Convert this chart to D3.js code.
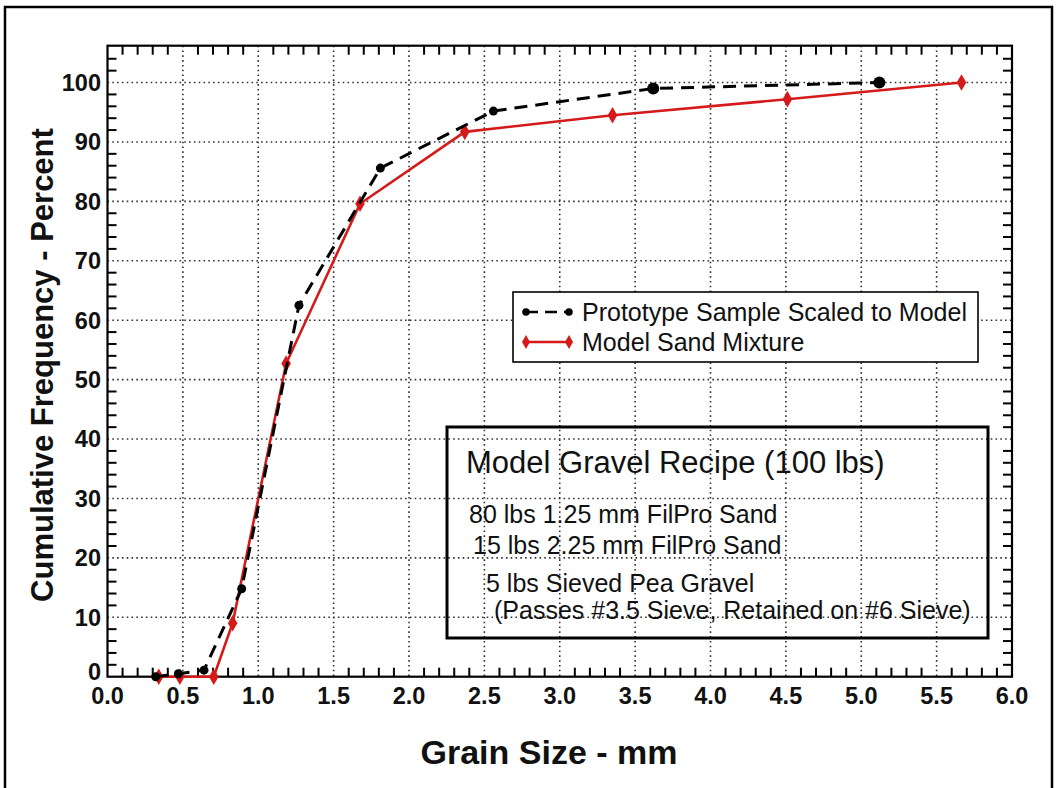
<!DOCTYPE html>
<html>
<head>
<meta charset="utf-8">
<script src="https://cdn.jsdelivr.net/npm/d3@7"></script>
<style>
  html, body { margin: 0; padding: 0; background: #fff; }
  svg { display: block; }
  text { font-family: "Liberation Sans", Arial, Helvetica, sans-serif; fill: #111; }
</style>
</head>
<body>
<svg id="chart" width="1058" height="788"></svg>
<script>
// Grain-size distribution: prototype sample (scaled) vs. model sand mixture
const protoSize = [0.32, 0.47, 0.64, 0.89, 1.27, 1.81, 2.56, 3.62, 5.12];
const protoPct  = [0, 0.5, 1.1, 14.8, 62.5, 85.6, 95.2, 99.0, 100.0];

const modelSize = [0.34, 0.48, 0.705, 0.83, 1.185, 1.675, 2.37, 3.35, 4.51, 5.665];
const modelPct  = [0, 0, 0, 9.0, 52.7, 79.6, 91.7, 94.5, 97.2, 100.0];

const xTickValues = [0, 0.5, 1, 1.5, 2, 2.5, 3, 3.5, 4, 4.5, 5, 5.5, 6];
const yTickValues = [0, 10, 20, 30, 40, 50, 60, 70, 80, 90, 100];

const seriesNames = ["Prototype Sample Scaled to Model", "Model Sand Mixture"];
const recipeTitle = "Model Gravel Recipe (100 lbs)";
const recipeLines = [
  "80 lbs 1.25 mm FilPro Sand",
  "15 lbs 2.25 mm FilPro Sand",
  "5 lbs Sieved Pea Gravel",
  "(Passes #3.5 Sieve, Retained on #6 Sieve)"
];

const svg = d3.select("#chart");
const plot = { left: 107.5, right: 1012, top: 45.7, bottom: 676.7 };

const x = d3.scaleLinear().domain([0, 6]).range([plot.left, plot.right]);
const y = d3.scaleLinear().domain([0, 106.2]).range([plot.bottom, plot.top]);

// outer frame
svg.append("rect")
  .attr("x", 5).attr("y", 7).attr("width", 1047).attr("height", 800)
  .attr("fill", "none").attr("stroke", "#000").attr("stroke-width", 2.5);

// dotted grid
const grid = svg.append("g").attr("stroke", "#333").attr("stroke-width", 1.6)
  .attr("stroke-dasharray", "1.6,3.2");
grid.selectAll("line.gx").data(xTickValues.filter(v => v > 0 && v < 6)).join("line")
  .attr("x1", d => x(d)).attr("x2", d => x(d))
  .attr("y1", plot.top).attr("y2", plot.bottom);
grid.selectAll("line.gy").data(yTickValues.filter(v => v > 0)).join("line")
  .attr("y1", d => y(d)).attr("y2", d => y(d))
  .attr("x1", plot.left).attr("x2", plot.right);

// minor ticks on all four sides, pointing inward
const tickLen = 9;
const xMinor = d3.range(1, 60).map(i => i / 10).filter(v => Math.abs(v * 2 - Math.round(v * 2)) > 1e-6);
const yMinor = d3.range(2, 106, 2).filter(v => v % 10 !== 0);
const ticks = svg.append("g").attr("stroke", "#000").attr("stroke-width", 2);
ticks.selectAll("line.tb").data(xMinor).join("line")
  .attr("x1", d => x(d)).attr("x2", d => x(d))
  .attr("y1", plot.bottom).attr("y2", plot.bottom - tickLen);
ticks.selectAll("line.tt").data(xMinor).join("line")
  .attr("x1", d => x(d)).attr("x2", d => x(d))
  .attr("y1", plot.top).attr("y2", plot.top + tickLen);
ticks.selectAll("line.tl").data(yMinor).join("line")
  .attr("y1", d => y(d)).attr("y2", d => y(d))
  .attr("x1", plot.left).attr("x2", plot.left + tickLen);
ticks.selectAll("line.tr").data(yMinor).join("line")
  .attr("y1", d => y(d)).attr("y2", d => y(d))
  .attr("x1", plot.right).attr("x2", plot.right - tickLen);

// plot border
svg.append("rect")
  .attr("x", plot.left).attr("y", plot.top)
  .attr("width", plot.right - plot.left).attr("height", plot.bottom - plot.top)
  .attr("fill", "none").attr("stroke", "#000").attr("stroke-width", 2.2);

// tick labels
svg.append("g").selectAll("text").data(xTickValues).join("text")
  .attr("x", d => x(d)).attr("y", 704)
  .attr("text-anchor", "middle")
  .style("font-size", "23.5px").style("font-weight", "bold")
  .text(d => d.toFixed(1));
svg.append("g").selectAll("text").data(yTickValues).join("text")
  .attr("x", 101).attr("y", d => d === 0 ? y(d) - 5 : y(d))
  .attr("dy", "0.36em")
  .attr("text-anchor", "end")
  .style("font-size", "23.5px").style("font-weight", "bold")
  .text(d => d);

// axis titles
svg.append("text")
  .attr("x", 549).attr("y", 764).attr("text-anchor", "middle")
  .style("font-size", "34px").style("font-weight", "bold")
  .text("Grain Size - mm");
svg.append("text")
  .attr("transform", "translate(53,365) rotate(-90)")
  .attr("text-anchor", "middle")
  .style("font-size", "31px").style("font-weight", "bold")
  .text("Cumulative Frequency - Percent");

// series
const line = d3.line().x(d => x(d[0])).y(d => y(d[1]));
const protoPts = protoSize.map((s, i) => [s, protoPct[i]]);
const modelPts = modelSize.map((s, i) => [s, modelPct[i]]);
const red = "#d41a1a";

svg.append("path").datum(modelPts).attr("d", line)
  .attr("fill", "none").attr("stroke", red).attr("stroke-width", 2.6);
svg.append("g").selectAll("path").data(modelPts).join("path")
  .attr("transform", d => `translate(${x(d[0])},${y(d[1])})`)
  .attr("d", d3.symbol(d3.symbolDiamond, 80))
  .attr("fill", red);

svg.append("path").datum(protoPts).attr("d", line)
  .attr("fill", "none").attr("stroke", "#000").attr("stroke-width", 3)
  .attr("stroke-dasharray", "13,8");
svg.append("g").selectAll("circle").data(protoPts).join("circle")
  .attr("cx", d => x(d[0])).attr("cy", d => y(d[1]))
  .attr("r", d => d[0] > 3 ? 6 : 4.5)
  .attr("fill", "#000");

// legend
const lg = svg.append("g");
lg.append("rect").attr("x", 513).attr("y", 292).attr("width", 465).attr("height", 70)
  .attr("fill", "#fff").attr("stroke", "#000").attr("stroke-width", 1.6);
const rows = [
  { name: seriesNames[0], color: "#000", dash: "12,7", marker: d3.symbolCircle, size: 45, y: 312 },
  { name: seriesNames[1], color: red, dash: null, marker: d3.symbolDiamond, size: 55, y: 342 }
];
rows.forEach(r => {
  lg.append("line").attr("x1", 526).attr("x2", 569).attr("y1", r.y).attr("y2", r.y)
    .attr("stroke", r.color).attr("stroke-width", 2.6)
    .attr("stroke-dasharray", r.dash);
  [526, 569].forEach(px => {
    lg.append("path").attr("transform", `translate(${px},${r.y})`)
      .attr("d", d3.symbol(r.marker, r.size)).attr("fill", r.color);
  });
  lg.append("text").attr("x", 582).attr("y", r.y + 8.5)
    .style("font-size", "25px").text(r.name);
});

// recipe note
const rb = svg.append("g");
rb.append("rect").attr("x", 447).attr("y", 427).attr("width", 541).attr("height", 211)
  .attr("fill", "none").attr("stroke", "#000").attr("stroke-width", 3);
rb.append("text").attr("x", 466).attr("y", 473)
  .style("font-size", "31px").text(recipeTitle);
const lineX = [469, 473, 486, 494];
const lineY = [523, 554, 592, 619];
recipeLines.forEach((t, i) => {
  rb.append("text").attr("x", lineX[i]).attr("y", lineY[i])
    .style("font-size", "25px").text(t);
});
</script>
</body>
</html>
